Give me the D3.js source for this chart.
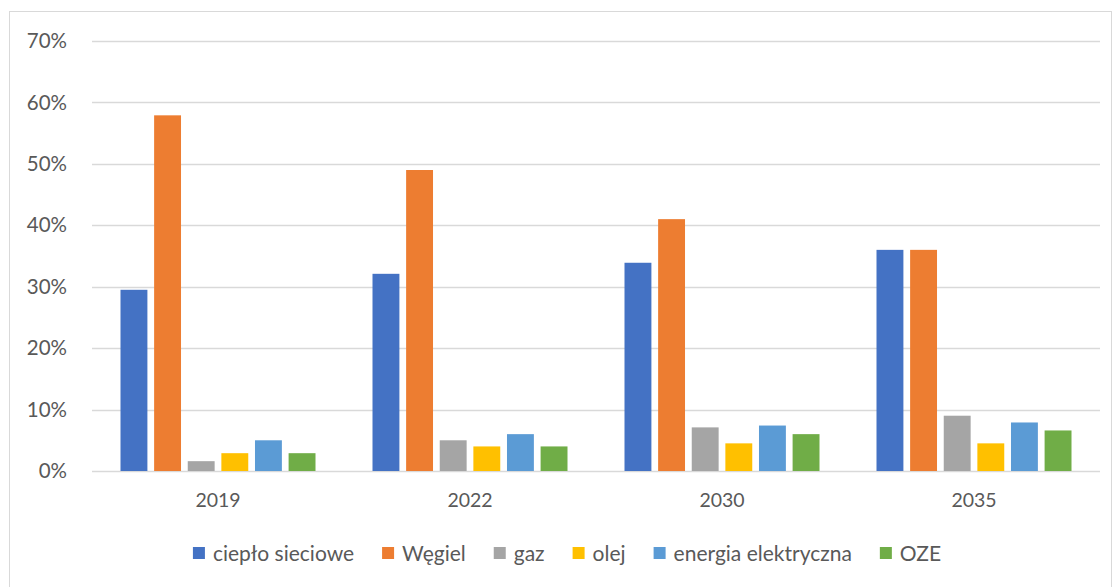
<!DOCTYPE html>
<html>
<head>
<meta charset="utf-8">
<script src="https://cdn.jsdelivr.net/npm/d3@7"></script>
<style>
  body { margin: 0; background: #fff; }
  text { font-family: Lato, "Open Sans", sans-serif; fill: #595959; }
</style>
</head>
<body>
<script>
// udział nośników ciepła - wykres słupkowy

const years = ["2019", "2022", "2030", "2035"];
const seriesNames = ["ciepło sieciowe", "Węgiel", "gaz", "olej", "energia elektryczna", "OZE"];
const colors = ["#4472C4", "#ED7D31", "#A5A5A5", "#FFC000", "#5B9BD5", "#70AD47"];

// values in percent, one array per series (2019, 2022, 2030, 2035)
const cieplo = [29.5, 32.1, 33.9, 36.0];
const wegiel = [57.9, 49.0, 41.0, 36.0];
const gaz    = [1.6, 5.0, 7.1, 9.0];
const olej   = [2.9, 4.0, 4.5, 4.5];
const energia = [5.0, 6.0, 7.4, 7.9];
const oze    = [2.9, 4.0, 6.0, 6.6];
const yTicks = [0, 10, 20, 30, 40, 50, 60, 70];

const seriesValues = [cieplo, wegiel, gaz, olej, energia, oze];

const width = 1120, height = 587;
const plot = {left: 92, right: 1100, top: 41, bottom: 471};

const svg = d3.select("body").append("svg")
    .attr("width", width)
    .attr("height", height);

// chart border
svg.append("rect")
    .attr("x", 9.5).attr("y", 11.5)
    .attr("width", 1102).attr("height", 600)
    .attr("fill", "#fff")
    .attr("stroke", "#d9d9d9");

const y = d3.scaleLinear().domain([0, 70]).range([plot.bottom, plot.top]);
const x0 = d3.scaleBand().domain(years).range([plot.left, plot.right]).padding(0);
const x1 = d3.scaleBand().domain(d3.range(seriesNames.length))
    .range([28.5, x0.bandwidth() - 28.5]).paddingInner(0.2).paddingOuter(0);

// gridlines
svg.append("g").selectAll("line")
    .data(yTicks)
    .join("line")
      .attr("x1", plot.left).attr("x2", plot.right)
      .attr("y1", d => Math.round(y(d)) + 0.5)
      .attr("y2", d => Math.round(y(d)) + 0.5)
      .attr("stroke", "#d9d9d9")
      .attr("stroke-width", 1.3);

// y labels
svg.append("g").selectAll("text")
    .data(yTicks)
    .join("text")
      .attr("x", 67)
      .attr("y", d => y(d))
      .attr("dy", "0.35em")
      .attr("text-anchor", "end")
      .style("font-size", "20.5px")
      .text(d => d + "%");

// bars
const groups = svg.append("g").selectAll("g")
    .data(years)
    .join("g")
      .attr("transform", d => "translate(" + x0(d) + ",0)");

groups.selectAll("rect")
    .data((d, i) => seriesValues.map((s, k) => ({k: k, v: s[i]})))
    .join("rect")
      .attr("x", d => x1(d.k))
      .attr("y", d => y(d.v))
      .attr("width", x1.bandwidth())
      .attr("height", d => y(0) - y(d.v))
      .attr("fill", d => colors[d.k]);

// x labels
svg.append("g").selectAll("text")
    .data(years)
    .join("text")
      .attr("x", d => x0(d) + x0.bandwidth() / 2)
      .attr("y", 507)
      .attr("text-anchor", "middle")
      .style("font-size", "19.5px")
      .text(d => d);

// legend
const legend = svg.append("g");
const items = legend.selectAll("g")
    .data(seriesNames)
    .join("g");
items.append("rect")
    .attr("y", 547)
    .attr("width", 12).attr("height", 12)
    .attr("fill", (d, i) => colors[i]);
items.append("text")
    .attr("x", 20)
    .attr("y", 553)
    .attr("dy", "0.36em")
    .style("font-size", "21px")
    .text(d => d);

let pos = 0;
const offsets = [];
items.each(function() {
  offsets.push(pos);
  pos += 20 + this.querySelector("text").getComputedTextLength() + 28;
});
const total = pos - 28;
const start = 567 - total / 2;
items.attr("transform", (d, i) => "translate(" + (start + offsets[i]) + ",0)");
</script>
</body>
</html>
